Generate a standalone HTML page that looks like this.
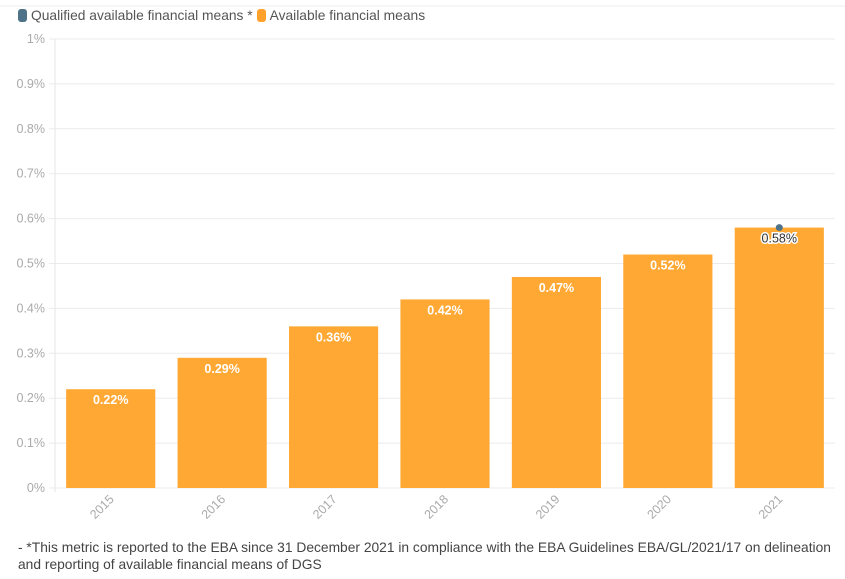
<!DOCTYPE html>
<html><head><meta charset="utf-8"><style>
body{margin:0;background:#fff;font-family:"Liberation Sans",sans-serif;}
#wrap{position:relative;width:845px;height:579px;overflow:hidden}
.legend{position:absolute;top:8px;left:18px;font-size:13.8px;color:#555;display:flex;align-items:center;white-space:nowrap}
.sw{display:inline-block;width:9px;height:13px;border-radius:3px;margin-right:4px}
.note{position:absolute;left:18px;top:539px;font-size:13.8px;color:#444;line-height:17px;white-space:nowrap}
</style></head><body>
<div id="wrap">
<div class="legend">
<span style="display:flex;align-items:center"><span class="sw" style="background:#4e7389"></span>Qualified available financial means *</span>
<span style="display:flex;align-items:center;margin-left:4px"><span class="sw" style="background:#ffa12b"></span>Available financial means</span>
</div>
<svg id="chart" width="845" height="579" style="position:absolute;left:0;top:0"></svg>
<div class="note">- *This metric is reported to the EBA since 31 December 2021 in compliance with the EBA Guidelines EBA/GL/2021/17 on delineation<br>and reporting of available financial means of DGS</div>
</div>
<script>
const categories=["2015","2016","2017","2018","2019","2020","2021"];
const available=[0.22,0.29,0.36,0.42,0.47,0.52,0.58];
const qualified=[null,null,null,null,null,null,0.58];
const yTicks=[0,0.1,0.2,0.3,0.4,0.5,0.6,0.7,0.8,0.9,1];
const yTickLabels=["0%","0.1%","0.2%","0.3%","0.4%","0.5%","0.6%","0.7%","0.8%","0.9%","1%"];
const NS="http://www.w3.org/2000/svg";
const svg=document.getElementById('chart');
const L=55,R=835,T=39,B=488;
const y=v=>B-(v/1)*(B-T);
const bw=(R-L)/categories.length;
const xc=i=>L+bw*(i+0.5);
function mk(t,a){const e=document.createElementNS(NS,t);for(const k in a)e.setAttribute(k,a[k]);svg.appendChild(e);return e;}
let tl=mk('line',{x1:0,x2:845,y1:6,y2:6,stroke:'#eee'});


yTicks.forEach((v,i)=>{
 const g=mk('line',{x1:L-6,x2:R,y1:y(v),y2:y(v),stroke:'#ebebeb'});
 
 
 const t=mk('text',{x:L-10,y:y(v)+4,'text-anchor':'end','font-size':12.5,fill:'#aaa'});
 t.textContent=yTickLabels[i];
 
 
});
const ax=mk('line',{x1:L,x2:L,y1:T,y2:B+4,stroke:'#e6e6e6'});


categories.forEach((c,i)=>{
 const w=bw*0.8,x=xc(i)-w/2;
 const r=mk('rect',{x:x,y:y(available[i]),width:w,height:B-y(available[i]),fill:'#ffa833'});
 
 
 const lx=xc(i);
 const t=mk('text',{x:lx,y:y(available[i])+15,'text-anchor':'middle','font-size':12.5,'font-weight':'bold',fill:'#fff'});
 t.textContent=available[i].toFixed(2)+'%';
 
 
 if(qualified[i]!=null){
  t.setAttribute('fill','#333');t.setAttribute('font-weight','normal');
  t.setAttribute('stroke','#fff');t.setAttribute('stroke-width','3');t.setAttribute('paint-order','stroke');
  const d=mk('circle',{cx:lx,cy:y(qualified[i]),r:3.5,fill:'#4e7389'});
  
  
  svg.appendChild(t);
 }
 const xt=mk('text',{x:0,y:0,'text-anchor':'end','font-size':12.5,fill:'#aaa',transform:`translate(${xc(i)+4},${B+12}) rotate(-45)`});
 xt.textContent=c;
 
 
});
</script>
</body></html>
